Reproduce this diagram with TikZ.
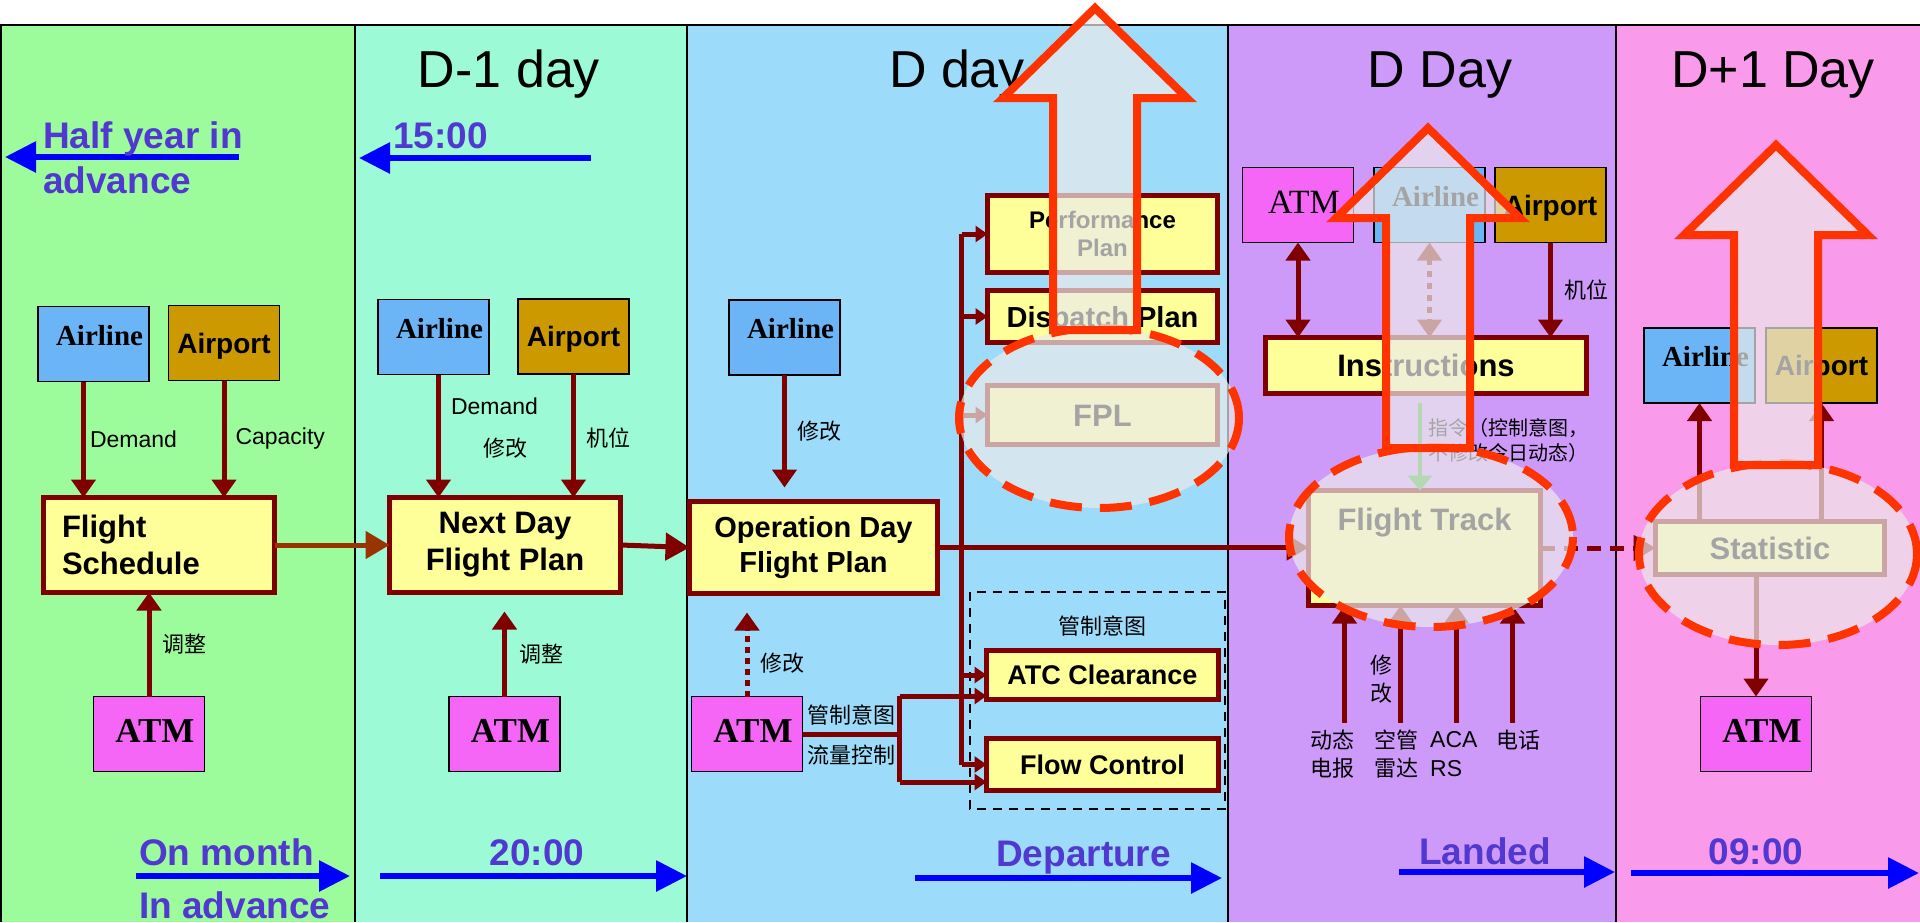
\documentclass[tikz,border=0pt]{standalone}
\usepackage{fontspec}
\setmainfont{Liberation Sans}
\newfontfamily\tms{Liberation Serif}
\newfontfamily\cjk{Noto Sans CJK SC}
\usepackage{tikz}
\usetikzlibrary{calc,positioning,arrows.meta}

\definecolor{darkred}{HTML}{800000}
\definecolor{rust}{HTML}{993300}
\definecolor{planyellow}{HTML}{FFFF99}
\definecolor{airblue}{HTML}{6BB5F7}
\definecolor{portgold}{HTML}{CC9900}
\definecolor{atmpink}{HTML}{F666F6}
\definecolor{colA}{HTML}{9CFC9C}
\definecolor{colB}{HTML}{9CFAD6}
\definecolor{colC}{HTML}{9CDCFA}
\definecolor{colD}{HTML}{CE9AFA}
\definecolor{colE}{HTML}{FA9AEA}
\definecolor{timetext}{HTML}{5038D0}
\definecolor{hlred}{HTML}{FF3300}
\definecolor{hlfill}{HTML}{EBEBEB}
\definecolor{cmdgreen}{HTML}{33AA33}

\tikzset{
  smallbox/.style={draw=black, line width=1.5pt, minimum width=111pt, minimum height=75pt, inner sep=0pt, outer sep=0pt},
  airline/.style={smallbox, fill=airblue, font=\tms\bfseries\fontsize{29}{34}\selectfont, text height=20pt, text depth=18pt, execute at begin node=\hspace*{12pt}},
  airport/.style={smallbox, fill=portgold, font=\bfseries\fontsize{28}{34}\selectfont, text height=20pt, text depth=0pt},
  atm/.style={smallbox, fill=atmpink, font=\tms\bfseries\fontsize{35}{40}\selectfont, text height=23pt, text depth=7pt, execute at begin node=\hspace*{12pt}},
  plan/.style={draw=darkred, line width=5pt, fill=planyellow, inner sep=0pt, outer sep=0pt, align=center, font=\bfseries\fontsize{31}{37}\selectfont},
  oneline/.style={text height=#1, text depth=0pt},
  conn/.style={draw=darkred, line width=5pt, -{Triangle[length=18pt,width=24pt]}},
  flow/.style={conn, -{Triangle[length=24pt,width=27pt]}},
  branch/.style={conn, -{Triangle[length=12pt,width=16pt]}},
  lbl/.style={font=\fontsize{23}{29}\selectfont, inner sep=0pt, text=black},
  cjklbl/.style={font=\cjk\fontsize{22}{28}\selectfont, inner sep=0pt, text=black},
  heading/.style={font=\fontsize{52}{60}\selectfont, anchor=base},
  timelbl/.style={font=\bfseries\fontsize{37}{45}\selectfont, text=timetext, inner sep=0pt},
  timearrow/.style={draw=blue, line width=6pt, -{Triangle[length=31pt,width=30pt]}},
  hilite/.style={draw=hlred, line width=8pt, fill=hlfill, fill opacity=0.7, draw opacity=1},
}

\begin{document}
\begin{tikzpicture}[x=1pt,y=-1pt]
  \useasboundingbox (0,0) rectangle (1920,922);
  \fill[white] (0,0) rectangle (1920,922);
  \foreach \xa/\xb/\cl in {0/355/colA,355/687/colB,687/1228/colC,1228/1616/colD,1616/1920/colE}
    \fill[\cl] (\xa,25) rectangle (\xb,922);
  \foreach \xx in {1,355,687,1228,1616}
    \draw[line width=2pt] (\xx,25) -- (\xx,922);
  \draw[line width=2pt] (0,25) -- (1920,25);

  \node[heading] (hdA) at (509,87) {D-1 day};
  \node[heading] (hdB) at (957,87) {D day};
  \node[heading] (hdC) at (1440,87) {D Day};
  \node[heading] (hdD) at (1773,87) {D+1 Day};

  \foreach \n/\xa/\xb/\yy in {a/239/5/157,b/591/359/158,c/136/350/876,d/380/687/876,e/915/1222/878,f/1399/1615/872,g/1631/1919/873} {
    \coordinate (ts\n) at (\xa,\yy);
    \coordinate (te\n) at (\xb,\yy);
    \draw[timearrow] (ts\n) -- (te\n);
  }
  \node[timelbl, align=left, anchor=north west] (tHalf) at (43,121) {Half year in\\advance};
  \node[timelbl, anchor=base west] (t1500) at (393,148) {15:00};
  \node[timelbl, align=left, anchor=north west, font=\bfseries\fontsize{37}{53}\selectfont] (tMonth) at (139,838) {On month\\In advance};
  \node[timelbl, anchor=base] (t2000) at (537,865) {20:00};
  \node[timelbl, anchor=base west] (tDep) at (996,866) {Departure};
  \node[timelbl, anchor=base west] (tLand) at (1419,864) {Landed};
  \node[timelbl, anchor=base] (t0900) at (1756,864) {09:00};

  \node[airline] (air1) at (93.5,344) {Airline};
  \node[airport] (apt1) at (224,343) {Airport};
  \node[plan, minimum width=231pt, minimum height=95pt, text width=194pt, align=left] (fs) at (159,545) {Flight\\Schedule};
  \node[atm] (atm1) at (149,734) {ATM};
  \draw[conn] ([xshift=-10pt]air1.south) coordinate (d1top) -- (d1top |- fs.north)
    node[lbl, pos=.5, anchor=west, xshift=4pt] (dem1) {Demand};
  \draw[conn] (apt1.south) -- (apt1.south |- fs.north)
    node[lbl, pos=.5, anchor=west, xshift=9pt] (cap1) {Capacity};
  \draw[conn] (atm1.north) -- (atm1.north |- fs.south)
    node[cjklbl, pos=.5, anchor=west, xshift=11pt] (adj1) {调整};

  \node[airline] (air2) at (433.5,337) {Airline};
  \node[airport] (apt2) at (573.5,336.5) {Airport};
  \node[plan, minimum width=231pt, minimum height=95pt] (nd) at (505,545) {Next Day\\Flight Plan};
  \node[atm] (atm2) at (504.5,734) {ATM};
  \draw[conn] ([xshift=5pt]air2.south) coordinate (d2top) -- (d2top |- nd.north)
    node[lbl, pos=.26, anchor=west, xshift=10pt] (dem2) {Demand}
    node[cjklbl, pos=.6, anchor=west, xshift=42pt] (mod2) {修改};
  \draw[conn] (apt2.south) -- (apt2.south |- nd.north)
    node[cjklbl, pos=.52, anchor=west, xshift=10pt] (slot2) {机位};
  \draw[conn] (atm2.north) -- ($(atm2.north |- nd.south)+(0,19)$)
    node[cjklbl, pos=.5, anchor=west, xshift=12pt] (adj2) {调整};
  \draw[conn, draw=rust, -{Triangle[length=24pt,width=27pt]}] (fs.east) -- (nd.west);

  \node[airline] (air3) at (784.5,337.5) {Airline};
  \node[plan, minimum width=248pt, minimum height=92pt, font=\bfseries\fontsize{29}{35}\selectfont] (od) at (813.5,547.5) {Operation Day\\Flight Plan};
  \node[atm] (atm3) at (747,734) {ATM};
  \draw[flow] (nd.east) -- (od.west);
  \draw[conn] (air3.south) -- ($(air3.south |- od.north)+(0,-14)$)
    node[cjklbl, pos=.5, anchor=west, xshift=10pt] (mod3) {修改};
  \draw[conn, dash pattern=on 6pt off 5pt] (atm3.north) -- ($(atm3.north |- od.south)+(0,19)$)
    node[cjklbl, pos=.4, anchor=west, xshift=11pt] (mod3b) {修改};

  \draw[line width=2pt, dash pattern=on 9pt off 7pt] (970,592) rectangle (1225,809);
  \node[plan, minimum width=230pt, minimum height=77pt, font=\bfseries\fontsize{24}{28}\selectfont] (perf) at (1102.5,234) {Performance\\Plan};
  \node[plan, minimum width=230pt, minimum height=52pt, oneline=21pt, font=\bfseries\fontsize{29}{34}\selectfont] (disp) at (1102.5,316.5) {Dispatch Plan};
  \node[plan, minimum width=230pt, minimum height=59pt, oneline=22pt] (fpl) at (1102.5,415) {FPL};
  \node[plan, minimum width=232pt, minimum height=49pt, oneline=19.5pt, font=\bfseries\fontsize{27}{32}\selectfont] (atc) at (1102.5,675) {ATC Clearance};
  \node[plan, minimum width=232pt, minimum height=52pt, oneline=19.5pt, font=\bfseries\fontsize{27}{32}\selectfont] (flw) at (1102.5,764.5) {Flow Control};
  \node[cjklbl, above=14pt of atc] (ctllbl) {管制意图};

  \coordinate (bus) at ($(od.east)+(24,0)$);
  \draw[darkred, line width=5pt] (perf.west -| bus) -- (flw.west -| bus);
  \foreach \b in {perf,disp,fpl,atc,flw}
    \draw[branch] (\b.west -| bus) -- (\b.west);

  \coordinate (fork) at ($(atm3.east)+(97,0)$);
  \coordinate (atcin) at ($(atc.west)+(0,21)$);
  \coordinate (flwin) at ($(flw.west)+(0,17.5)$);
  \draw[darkred, line width=5pt] (atm3.east) -- (fork)
    node[cjklbl, pos=.5, above=6pt] (ctl3) {管制意图}
    node[cjklbl, pos=.5, below=8pt] (flc3) {流量控制};
  \draw[darkred, line width=5pt] (fork |- atcin) -- (fork |- flwin);
  \draw[branch] (fork |- atcin) -- (atcin);
  \draw[branch] (fork |- flwin) -- (flwin);

  \node[atm, font=\tms\fontsize{34}{40}\selectfont] (atm4) at (1298,205) {ATM};
  \node[airline] (air4) at (1429.5,205) {Airline};
  \node[airport] (apt4) at (1550.5,205) {Airport};
  \node[plan, minimum width=321pt, minimum height=56pt, oneline=22pt] (ins) at (1426,365.5) {Instructions};
  \node[plan, minimum width=232pt, minimum height=115pt, text height=22pt, text depth=58pt] (ft) at (1424.5,548) {Flight Track};
  \draw[flow, -{Triangle[length=22pt,width=25pt]}] (od.east) -- (od.east -| ft.west);
  \draw[conn, {Triangle[length=18pt,width=24pt]}-{Triangle[length=18pt,width=24pt]}] (atm4.south) -- (atm4.south |- ins.north);
  \draw[conn, dash pattern=on 6pt off 6pt, {Triangle[length=18pt,width=24pt]}-{Triangle[length=18pt,width=24pt]}] (air4.south) -- (air4.south |- ins.north);
  \draw[conn] (apt4.south) -- (apt4.south |- ins.north)
    node[cjklbl, pos=.5, anchor=west, xshift=11pt] (slot4) {机位};
  \draw[draw=cmdgreen, line width=4pt, -{Triangle[length=15pt,width=24pt]}] ($(ins.south)+(-6,9)$) coordinate (cmdtop) -- (cmdtop |- ft.north);
  \node[cjklbl, font=\cjk\fontsize{20}{25}\selectfont, anchor=west, align=left] (cmdlbl) at (1428,440) {指令（控制意图，\\不修改今日动态）};
  \foreach \i/\dx in {1/-80,2/-24,3/32,4/88} {
    \coordinate (src\i) at ($(ft.south)+(\dx,117)$);
    \draw[conn] (src\i) -- (src\i |- ft.south);
  }
  \node[cjklbl, align=center] (lblTel) at (1332,754) {动态\\电报};
  \node[cjklbl, align=center] (lblMod) at (1381,679) {修\\改};
  \node[cjklbl, align=center] (lblRadar) at (1396,754) {空管\\雷达};
  \node[lbl, align=left, anchor=west] (lblAcars) at (1430,754) {ACA\\RS};
  \node[cjklbl] (lblPhone) at (1518,740) {电话};

  \node[airline] (air5) at (1699.5,365.5) {Airline};
  \node[airport] (apt5) at (1821.5,365.5) {Airport};
  \node[plan, minimum width=229pt, minimum height=53pt, oneline=22pt] (stat) at (1770,548) {Statistic};
  \node[atm] (atm5) at (1756,734) {ATM};
  \draw[flow, dash pattern=on 14pt off 9pt, -{Triangle[length=22pt,width=25pt]}] (ft.east) -- (ft.east -| stat.west);
  \draw[conn] (air5.south |- stat.north) -- (air5.south);
  \draw[conn] (apt5.south |- stat.north) -- (apt5.south);
  \draw[conn] (atm5.north |- stat.south) -- (atm5.north);

  \foreach \ex/\ey/\erx/\ery in {1099/418/140/90,1431/537/142/90,1778/554/139/91}
    \draw[hilite, dash pattern=on 32pt off 18pt] (\ex,\ey) ellipse [x radius=\erx, y radius=\ery];
  \foreach \cx/\ty/\by in {1095/8/330,1428/128/448,1776/145/465}
    \draw[hilite, line join=miter] (\cx,\ty) -- (\cx+92,\ty+90) -- (\cx+42,\ty+90) -- (\cx+42,\by)
      -- (\cx-42,\by) -- (\cx-42,\ty+90) -- (\cx-92,\ty+90) -- cycle;
\end{tikzpicture}
\end{document}
